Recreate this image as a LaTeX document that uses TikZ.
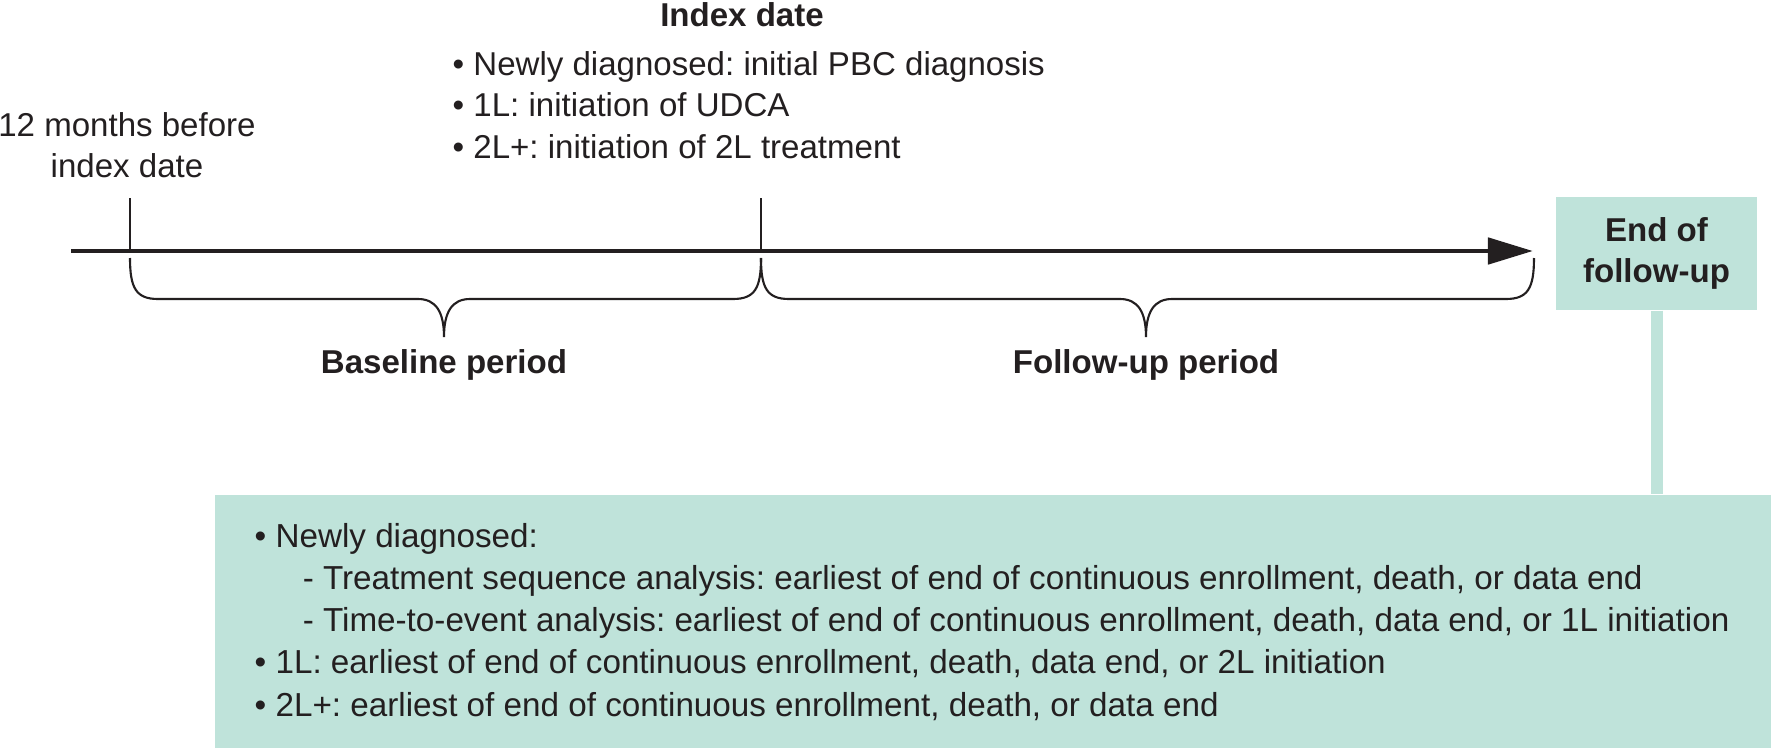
\documentclass[tikz,border=0pt]{standalone}
\usepackage{fontspec}
\setmainfont{Liberation Sans}
\usetikzlibrary{arrows.meta,positioning}
\definecolor{futeal}{RGB}{191,227,218}
\definecolor{ink}{RGB}{35,31,32}
\frenchspacing

\begin{document}
\begin{tikzpicture}[
      x=0.01cm, y=0.01cm,
      every node/.style={inner sep=0pt, text=ink, font=\fontsize{9.4}{11.8}\selectfont},
      lbl/.style={align=center, font=\fontsize{9.4}{11.8}\selectfont\bfseries},
      txt/.style={align=left, anchor=west},
      tealbox/.style={rectangle, fill=futeal, draw=none},
      tick/.style={draw=ink, line width=0.6pt},
      brace/.style={draw=ink, line width=0.6pt}
    ]
    \useasboundingbox (0,0) rectangle (1771,-748);

    % time axis
    \coordinate (AxStart) at (71,-251);
    \coordinate (AxEnd) at (1533,-251);
    \coordinate (PreTick) at (130,-251);
    \coordinate (IdxTick) at (761,-251);
    \draw[ink, line width=1.4pt, -{Triangle[length=0.45cm,width=0.26cm]}] (AxStart) -- (AxEnd);
    \draw[tick] (PreTick) -- ++(0,53);
    \draw[tick] (IdxTick) -- ++(0,53);

    \node[lbl] (IndexDate) at (742,-15) {Index date};
    \node[txt] (IndexList) at (452,-105) {\textbullet\ Newly diagnosed: initial PBC diagnosis\\
      \textbullet\ 1L: initiation of UDCA\\
      \textbullet\ 2L+: initiation of 2L treatment};
    \node[align=center] (PreDate) at (127,-145) {12 months before\\index date};

    % braces
    \draw[brace] (130,-258) .. controls (130,-288) and (136,-299) .. (158,-299) -- (418,-299)
      .. controls (436,-299) and (444,-312) .. (444,-337)
      .. controls (444,-312) and (452,-299) .. (470,-299) -- (733,-299)
      .. controls (755,-299) and (761,-288) .. (761,-258);
    \draw[brace] (761,-258) .. controls (761,-288) and (767,-299) .. (789,-299) -- (1120,-299)
      .. controls (1138,-299) and (1146,-312) .. (1146,-337)
      .. controls (1146,-312) and (1154,-299) .. (1172,-299) -- (1506,-299)
      .. controls (1528,-299) and (1534,-288) .. (1534,-258);

    \node[lbl] (Baseline) at (444,-365) {Baseline period};
    \node[lbl] (FollowUp) at (1146,-365) {Follow-up period};

    % end of follow-up
    \node[tealbox, lbl, minimum width=2.01cm, minimum height=1.13cm] (EndFU) at (1656.5,-253.5) {End of\\follow-up};
    \node[tealbox, anchor=north west, minimum width=15.57cm, minimum height=2.54cm] (EndRules) at (214,-494) {};
    \draw[futeal, line width=0.12cm] (EndFU.south) -- (EndFU.south |- EndRules.north);
    \node[txt, right=0.4cm of EndRules.west, font=\fontsize{9.45}{12.0}\selectfont] (EndList) {\textbullet\ Newly diagnosed:\\
      \hspace*{0.48cm}- Treatment sequence analysis: earliest of end of continuous enrollment, death, or data end\\
      \hspace*{0.48cm}- Time-to-event analysis: earliest of end of continuous enrollment, death, data end, or 1L initiation\\
      \textbullet\ 1L: earliest of end of continuous enrollment, death, data end, or 2L initiation\\
      \textbullet\ 2L+: earliest of end of continuous enrollment, death, or data end};

\end{tikzpicture}
\end{document}
